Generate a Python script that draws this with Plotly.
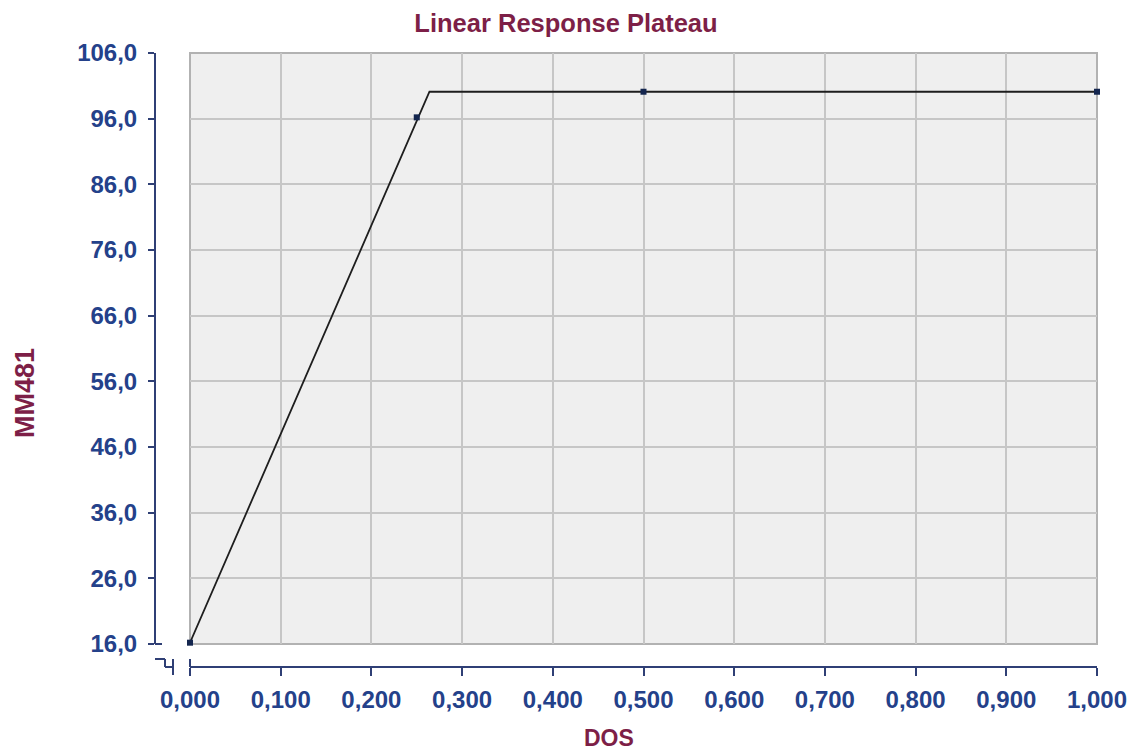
import plotly.graph_objects as go

# ---- data ----
dose_obs = [0.0, 0.25, 0.5, 1.0]
resp_obs = [16.2, 96.2, 100.1, 100.1]
fit_x = [0.0, 0.264, 1.0]
fit_y = [16.2, 100.1, 100.1]
x_ticks = [0.0, 0.1, 0.2, 0.3, 0.4, 0.5, 0.6, 0.7, 0.8, 0.9, 1.0]
y_ticks = [16, 26, 36, 46, 56, 66, 76, 86, 96, 106]

OFF = 8  # page body margin
W, H = 1136 - OFF, 751 - OFF
NAVY = "#2f3f75"
TICKC = "#24418a"
MAROON = "#7d1f47"
FONT = "Liberation Sans"

def px(x):
    return (x - OFF) / W

def py(y):
    return (H - (y - OFF)) / H

fig = go.Figure()
fig.add_trace(go.Scatter(x=fit_x, y=fit_y, mode="lines",
                         line=dict(color="#1e1e1e", width=1.8),
                         showlegend=False, hoverinfo="skip", cliponaxis=False))
fig.add_trace(go.Scatter(x=dose_obs, y=resp_obs, mode="markers",
                         marker=dict(symbol="square", size=6, color="#14264f"),
                         showlegend=False, cliponaxis=False))

axis_font = dict(family=FONT, size=24, color=TICKC, weight="bold")

fig.update_layout(
    width=W, height=H,
    margin=dict(l=0, r=0, t=0, b=0, autoexpand=False),
    paper_bgcolor="white", plot_bgcolor="#efefef",
    separators=",.",
    showlegend=False,
    xaxis=dict(domain=[px(190), px(1097)], range=[0, 1], anchor="free",
               position=py(667), showline=True, linecolor=NAVY, linewidth=2,
               ticks="outside", ticklen=8, tickwidth=2, tickcolor=NAVY,
               tickvals=x_ticks, tickformat=".3f", tickfont=axis_font,
               showgrid=True, gridcolor="#c6c6c6", gridwidth=1.5,
               zeroline=False, ticklabelstandoff=3, automargin=False),
    yaxis=dict(domain=[py(644), py(53)], range=[16, 106], anchor="free",
               position=px(155), showline=True, linecolor=NAVY, linewidth=2,
               ticks="outside", ticklen=6, tickwidth=2, tickcolor=NAVY,
               tickvals=y_ticks, tickformat=".1f", tickfont=axis_font,
               showgrid=True, gridcolor="#c6c6c6", gridwidth=1.5,
               zeroline=False, ticklabelstandoff=6, automargin=False),
    title=dict(text="Linear Response Plateau", x=px(566), y=py(23),
               xref="paper", yref="paper", xanchor="center", yanchor="middle",
               font=dict(family=FONT, size=25.5, color=MAROON, weight="bold")),
)

fig.add_annotation(text="DOS", x=px(609), y=py(738), xref="paper", yref="paper",
                   showarrow=False, xanchor="center", yanchor="middle",
                   font=dict(family=FONT, size=23, color=MAROON, weight="bold"))
fig.add_annotation(text="MM481", x=px(25), y=py(393), xref="paper", yref="paper",
                   showarrow=False, textangle=-90, xanchor="center", yanchor="middle",
                   font=dict(family=FONT, size=27, color=MAROON, weight="bold"))

# plot area border
fig.add_shape(type="rect", xref="x domain", yref="y domain", x0=0, x1=1, y0=0, y1=1,
              line=dict(color="#b2b2b2", width=2), layer="below")

# axis break marks (paper coordinates)
brk = dict(color=NAVY, width=2)
segments = [
    ((155, 644), (162, 644)),
    ((155, 659), (165, 659)),
    ((165, 659), (165, 667)),
    ((165, 667), (173, 667)),
    ((173, 659), (173, 675)),
    ((190, 659), (190, 667)),
]
for (x0, y0), (x1, y1) in segments:
    fig.add_shape(type="line", xref="paper", yref="paper",
                  x0=px(x0), y0=py(y0), x1=px(x1), y1=py(y1), line=brk)

fig.write_html("out.html", config={"displayModeBar": False})
